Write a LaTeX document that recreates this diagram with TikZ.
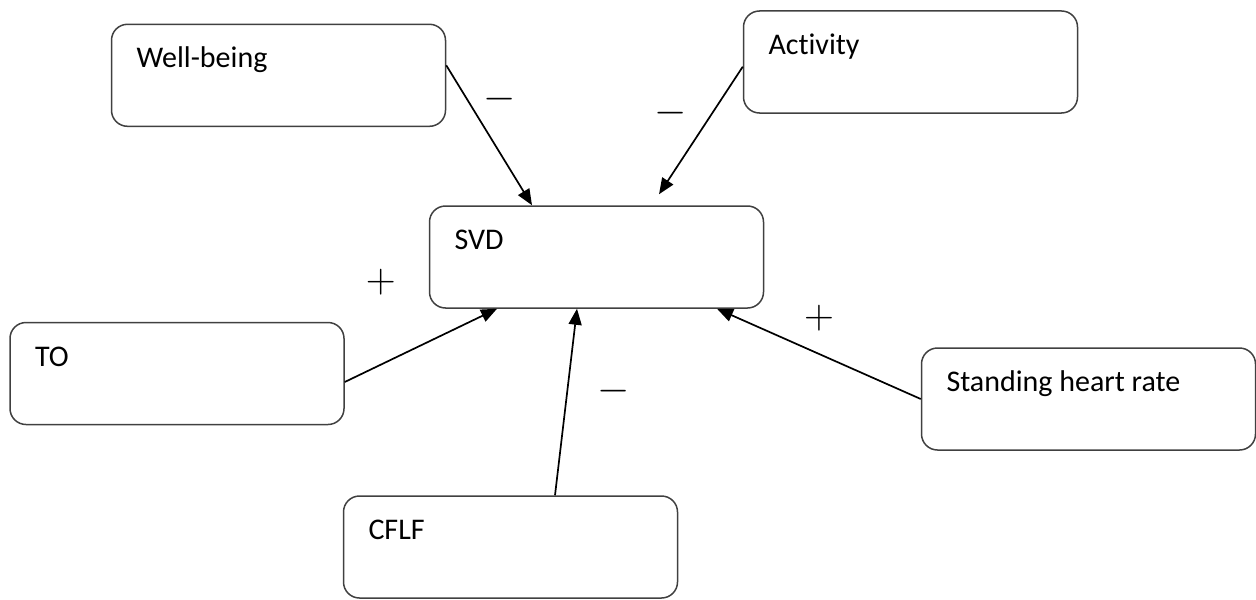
\documentclass[tikz,border=0pt]{standalone}
\usepackage{fontspec}
\setmainfont{Carlito}[Ligatures={NoCommon}]
\usetikzlibrary{arrows.meta}

\begin{document}
\begin{tikzpicture}[
  x=0.5pt, y=-0.5pt,
  box/.style={draw=black!75, line width=0.75pt, rounded corners=8pt, align=flush left,
              font=\fontsize{15}{18}\selectfont, inner xsep=12.5pt, inner ysep=0pt,
              text width=142pt, text height=21.75pt, text depth=29.25pt},
  sign/.style={font=\fontsize{20}{24}\selectfont, inner sep=0pt},
  arr/.style={-{Triangle[length=8pt, width=6.5pt]}, line width=0.85pt},
]
\useasboundingbox (0,0) rectangle (1256,599);
% factors and outcome
\node[box] (wb)   at (278.5,75.3) {Well-being};
\node[box] (act)  at (910.5,62)   {Activity};
\node[box] (svd)  at (596.5,257)  {SVD};
\node[box] (to)   at (177,373.5)  {TO};
\node[box] (shr)  at (1088.5,399) {Standing heart rate};
\node[box] (cflf) at (510.5,547)  {CFLF};
% effects on SVD
\draw[arr] ([yshift=5pt]wb.east) -- ([xshift=-32.25pt]svd.north);
\draw[arr] ([yshift=-2.35pt]act.west) -- ([xshift=31.25pt, yshift=5.5pt]svd.north);
\draw[arr] ([yshift=-4.25pt]to.east) -- ([xshift=-49.75pt]svd.south);
\draw[arr] ([xshift=22.25pt]cflf.north) -- ([xshift=-9.75pt]svd.south);
\draw[arr] (shr.west) -- ([xshift=60.25pt]svd.south);
% signs
\node[sign] (swb)   at (500,99)      {$-$};
\node[sign] (sact)  at (670.5,112.7) {$-$};
\node[sign] (sto)   at (380.7,281.7) {$+$};
\node[sign] (scflf) at (614,391)     {$-$};
\node[sign] (sshr)  at (819,318.3)   {$+$};
\end{tikzpicture}
\end{document}
